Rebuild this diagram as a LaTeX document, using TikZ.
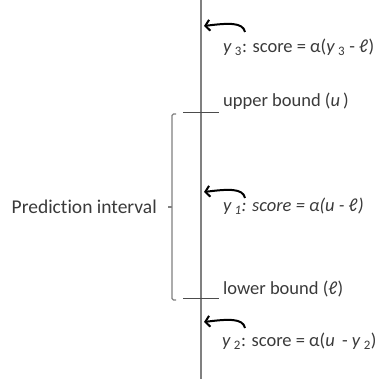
\documentclass[tikz,border=0pt]{standalone}
\usepackage{fontspec}
\setmainfont{Carlito}[Ligatures=NoCommon]
\usetikzlibrary{arrows.meta}
\definecolor{txt}{HTML}{3A3A3A}
\definecolor{ln}{HTML}{808080}
\begin{document}
\begin{tikzpicture}[x=1pt,y=-1pt,
  lbl/.style={anchor=base west,inner sep=0pt,text=txt,font=\fontsize{18.5}{21}\selectfont},
  biglbl/.style={anchor=base east,inner sep=0pt,text=txt,font=\fontsize{19.5}{22}\selectfont},
  axisline/.style={draw=ln,line width=1.4pt},
  tickline/.style={draw=black!70,line width=1pt},
  bracketline/.style={draw=ln,line width=1.1pt,rounded corners=1.5pt},
  curvarrow/.style={draw=black,line width=2pt,-{Straight Barb[length=4.5pt,width=11pt]}}]
\useasboundingbox (0,0) rectangle (383,379);
% main axis
\coordinate (axtop) at (201,0);
\coordinate (axbot) at (201,379);
\draw[axisline] (axtop) -- (axbot);
% bounds ticks
\coordinate (ub1) at (183,113);
\coordinate (ub2) at (219,113);
\coordinate (lb1) at (183,299);
\coordinate (lb2) at (219,299);
\draw[tickline] (ub1) -- (ub2);
\draw[tickline] (lb1) -- (lb2);
% bracket
\coordinate (brt) at (176,114);
\coordinate (brb) at (176,300);
\coordinate (brm) at (172,207);
\coordinate (brmt) at (168,207);
\draw[bracketline] (brt) -- (172,114) -- (172,300) -- (brb);
\draw[bracketline] (brm) -- (brmt);
% labels
\node[lbl] (y3) at (223,53) {\textit{y}\,\textsubscript{3}: score = α(\textit{y}\,\textsubscript{3} - ℓ)};
\node[lbl] (ub) at (223,107) {upper bound (\textit{u}\,)};
\node[biglbl] (pi) at (157,214) {Prediction interval};
\node[lbl] (y1) at (223,212) {\itshape y\,\textsubscript{1}: score = α(u - ℓ)};
\node[lbl] (lb) at (223,295) {lower bound (ℓ)};
\node[lbl] (y2) at (222,347) {\textit{y}\,\textsubscript{2}: score = α(\textit{u}\, - \textit{y}\,\textsubscript{2})};
% curved arrows
\coordinate (a3t) at (245,32);
\coordinate (a3h) at (204,26);
\coordinate (a1t) at (245,198);
\coordinate (a1h) at (204,192);
\coordinate (a2t) at (245,328);
\coordinate (a2h) at (204,322);
\draw[curvarrow] (a3t) .. controls (243,22) and (228,23) .. (a3h);
\draw[curvarrow] (a1t) .. controls (243,188) and (228,189) .. (a1h);
\draw[curvarrow] (a2t) .. controls (243,318) and (228,319) .. (a2h);
\end{tikzpicture}
\end{document}
